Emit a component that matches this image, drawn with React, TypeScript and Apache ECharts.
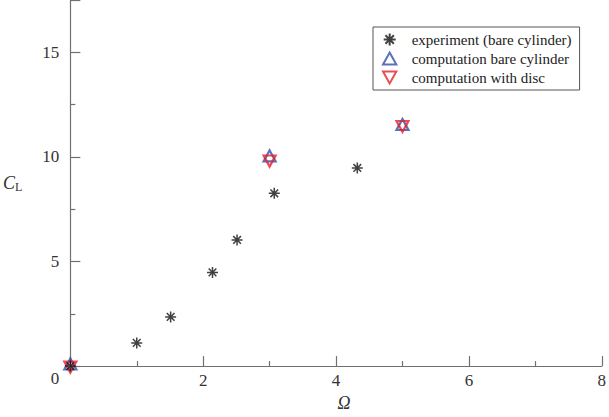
import React, { useEffect, useRef } from "react";
import * as echarts from "echarts";

const experimentX = [0, 1.0, 1.51, 2.14, 2.51, 3.07, 4.32];
const experimentY = [0, 1.11, 2.35, 4.48, 6.03, 8.26, 9.47];
const bareX = [0, 3, 5];
const bareY = [0.05, 10.0, 11.5];
const discX = [0, 3, 5];
const discY = [0.0, 9.85, 11.5];
const seriesNames = ["experiment (bare cylinder)", "computation bare cylinder", "computation with disc"];

const FONT = "Liberation Serif";
const AXIS_COLOR = "#707070";
const ASTERISK = "path://M0,-10L0,10M-10,0L10,0M-7,-7L7,7M-7,7L7,-7";
const UP = "path://M5,0L10,9L0,9Z";
const DOWN = "path://M0,0L10,0L5,9Z";

const pairs = (xs: number[], ys: number[]) => xs.map((x, i) => [x, ys[i]]);

export default function App() {
  const ref = useRef<HTMLDivElement>(null);
  useEffect(() => {
    if (!ref.current) return;
    const chart = echarts.init(ref.current, null, { renderer: "svg" });
    chart.setOption({
      animation: false,
      backgroundColor: "#ffffff",
      textStyle: { fontFamily: FONT },
      grid: { left: 70, right: 7, top: 0, bottom: 44 },
      legend: {
        orient: "vertical",
        left: 373,
        top: 27,
        borderColor: "#555",
        borderWidth: 1,
        padding: [5, 8, 5, 9],
        itemGap: 4,
        itemWidth: 22,
        itemHeight: 12,
        textStyle: { fontFamily: FONT, fontSize: 15, color: "#222", padding: [0, 0, 0, 6] },
        data: seriesNames,
      },
      xAxis: {
        type: "value",
        min: 0,
        max: 8,
        interval: 2,
        name: "{i|Ω}",
        nameLocation: "middle",
        nameGap: 24,
        nameTextStyle: {
          fontFamily: FONT,
          rich: { i: { fontFamily: FONT, fontStyle: "italic", fontSize: 18, color: "#333", padding: [0, 0, 0, 16] } },
        },
        axisLine: { show: true, onZero: false, lineStyle: { color: AXIS_COLOR, width: 1.2 } },
        axisTick: { show: true, inside: true, length: 10, lineStyle: { color: AXIS_COLOR, width: 1.2 } },
        minorTick: { show: true, splitNumber: 2, length: 5, lineStyle: { color: AXIS_COLOR, width: 1.2 } },
        splitLine: { show: false },
        axisLabel: {
          margin: 6,
          fontFamily: FONT,
          fontSize: 17,
          color: "#333",
          formatter: (v: number) => (v === 0 ? "" : String(v)),
        },
      },
      yAxis: {
        type: "value",
        min: 0,
        max: 17.5,
        interval: 5,
        name: "{c|C}{l|L}",
        nameLocation: "middle",
        nameRotate: 0,
        nameGap: 48,
        nameTextStyle: {
          fontFamily: FONT,
          rich: {
            c: { fontFamily: FONT, fontStyle: "italic", fontSize: 18, color: "#333" },
            l: { fontFamily: FONT, fontSize: 12, color: "#333", padding: [8, 0, 0, 0] },
          },
        },
        axisLine: { show: true, onZero: false, lineStyle: { color: AXIS_COLOR, width: 1.2 } },
        axisTick: { show: true, inside: true, length: 10, lineStyle: { color: AXIS_COLOR, width: 1.2 } },
        minorTick: { show: true, splitNumber: 2, length: 5, lineStyle: { color: AXIS_COLOR, width: 1.2 } },
        splitLine: { show: false },
        axisLabel: {
          margin: 11,
          showMaxLabel: false,
          fontFamily: FONT,
          fontSize: 17,
          color: "#333",
          formatter: (v: number) => (v === 0 ? "{z|0}" : String(v)),
          rich: { z: { fontFamily: FONT, fontSize: 17, color: "#333", padding: [24, 0, 0, 0] } },
        },
      },
      series: [
        {
          name: seriesNames[1],
          type: "scatter",
          clip: false,
          symbol: UP,
          symbolSize: [12, 11],
          symbolOffset: [0, -1],
          itemStyle: { color: "rgba(0,0,0,0)", borderColor: "#2f4fa6", borderWidth: 2.2 },
          data: pairs(bareX, bareY),
          z: 2,
        },
        {
          name: seriesNames[2],
          type: "scatter",
          clip: false,
          symbol: DOWN,
          symbolSize: [12, 11],
          symbolOffset: [0, 1],
          itemStyle: { color: "rgba(0,0,0,0)", borderColor: "#e3202a", borderWidth: 2.2 },
          data: pairs(discX, discY),
          z: 3,
        },
        {
          name: seriesNames[0],
          type: "scatter",
          clip: false,
          symbol: ASTERISK,
          symbolSize: 11,
          itemStyle: { color: "rgba(0,0,0,0)", borderColor: "#111", borderWidth: 1.5 },
          data: pairs(experimentX, experimentY),
          z: 4,
        },
      ],
    });
    return () => chart.dispose();
  }, []);
  return (
    <div
      ref={ref}
      style={{ position: "absolute", left: 0, top: 0, width: 609, height: 417 }}
    />
  );
}
